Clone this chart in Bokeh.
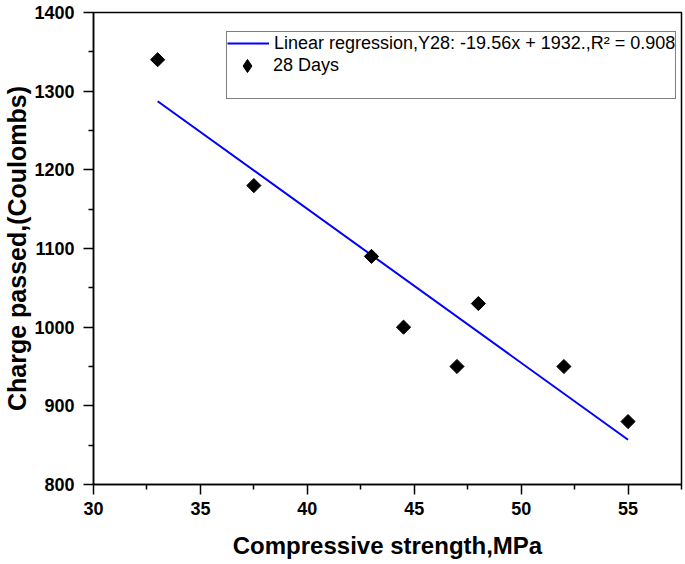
import numpy as np
from bokeh.plotting import figure
from bokeh.models import Range1d, FixedTicker, Legend, LegendItem
from bokeh.embed import file_html
from bokeh.resources import INLINE

# ---- data ----
strength = [33, 37.5, 43, 44.5, 47, 48, 52, 55]
charge = [1340, 1180, 1090, 1000, 950, 1030, 950, 880]
x_major = [30, 35, 40, 45, 50, 55]
x_minor = [32.5, 37.5, 42.5, 47.5, 52.5, 57.5]
y_major = [800, 900, 1000, 1100, 1200, 1300, 1400]
y_minor = [850, 950, 1050, 1150, 1250, 1350]
fit_label = "Linear regression,Y28: -19.56x + 1932.,R\u00b2 = 0.908"
points_label = "28 Days"

slope, intercept = np.polyfit(strength, charge, 1)
fit_x = [min(strength), max(strength)]
fit_y = [slope * v + intercept for v in fit_x]

FONT = "Liberation Sans"

p = figure(width=684, height=564, output_backend="svg", toolbar_location=None,
           x_range=Range1d(30, 57.5), y_range=Range1d(800, 1400),
           min_border_left=92, min_border_right=3, min_border_top=12, min_border_bottom=80)
p.grid.visible = False
p.outline_line_color = "black"
p.outline_line_width = 1.5
p.background_fill_color = "white"

line_r = p.line(fit_x, fit_y, line_color="#0000ff", line_width=2)
pts_r = p.scatter(strength, charge, marker="square", size=10, angle=np.pi / 4,
                  fill_color="black", line_color="black")
# legend-only renderers (no visible data): diamond key and blank rows
key_r = p.scatter(x=[np.nan], y=[np.nan], marker="diamond", size=14,
                  fill_color="black", line_color="black")
blank_r = p.scatter(x=[np.nan], y=[np.nan], size=0, fill_alpha=0, line_alpha=0)

for ax, major, minor in ((p.xaxis[0], x_major, x_minor), (p.yaxis[0], y_major, y_minor)):
    ax.ticker = FixedTicker(ticks=major, minor_ticks=minor)
    ax.axis_line_color = "black"
    ax.axis_line_width = 1.5
    ax.major_tick_line_color = "black"
    ax.major_tick_line_width = 1.5
    ax.minor_tick_line_color = "black"
    ax.minor_tick_line_width = 1.5
    ax.major_tick_in = 0
    ax.major_tick_out = 10
    ax.minor_tick_in = 0
    ax.minor_tick_out = 5
    ax.major_label_text_font = FONT
    ax.major_label_text_font_style = "bold"
    ax.major_label_text_font_size = "18px"
    ax.major_label_text_color = "black"
    ax.axis_label_text_font = FONT
    ax.axis_label_text_font_style = "bold"
    ax.axis_label_text_color = "black"

p.xaxis[0].axis_label = "Compressive strength,MPa"
p.xaxis[0].axis_label_text_font_size = "24px"
p.xaxis[0].major_label_standoff = 7
p.xaxis[0].axis_label_standoff = 14
p.yaxis[0].axis_label = "Charge passed,(Coulombs)"
p.yaxis[0].axis_label_text_font_size = "25px"
p.yaxis[0].major_label_standoff = 9
p.yaxis[0].axis_label_standoff = 0

common = dict(padding=0, spacing=0, margin=0, glyph_width=42, label_height=22,
              label_standoff=5, label_text_font=FONT, label_text_font_size="18px",
              label_text_color="black")

# framed legend box: regression row plus two rows of blank space
legend_box = Legend(items=[LegendItem(label=fit_label, renderers=[line_r]),
                           LegendItem(label=" ", renderers=[blank_r]),
                           LegendItem(label=" ", renderers=[blank_r])],
                    location=(133, 385), glyph_height=22,
                    border_line_color="black", border_line_width=1.2,
                    background_fill_color="white", background_fill_alpha=1, **common)
# second row drawn with a taller glyph area so the diamond key is full size
legend_pts = Legend(items=[LegendItem(label=points_label, renderers=[key_r])],
                    location=(133, 402), glyph_height=33,
                    border_line_alpha=0, background_fill_alpha=0, **common)
p.add_layout(legend_box, "center")
p.add_layout(legend_pts, "center")

open("out.html", "w").write(file_html(p, INLINE))
